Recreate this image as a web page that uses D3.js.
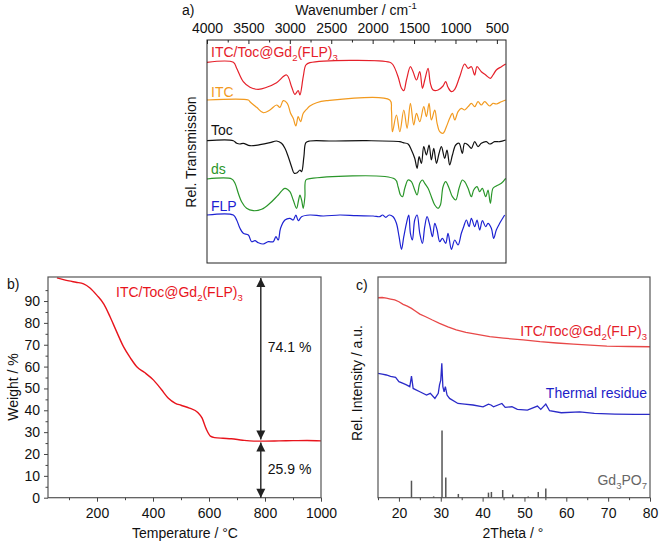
<!DOCTYPE html>
<html><head><meta charset="utf-8">
<script src="https://cdn.jsdelivr.net/npm/d3@7"></script>
<style>
html,body{margin:0;padding:0;background:#fff;}
text{font-family:"Liberation Sans",Arial,sans-serif;}
</style></head>
<body><svg id="c" width="661" height="544"></svg>
<script>
// ---------- DATA ----------
// panel a: IR spectra [wavenumber cm-1, rel. transmission (offset, a.u.)]
const irComposite = [[4000,200.7],[3682,200.7],[3642,194.7],[3562,181.3],[3481,175.7],[3381,173.7],[3280,175.7],[3160,180.3],[3039,188],[2979,176.3],[2939,168.7],[2899,172.3],[2878,168],[2838,186.3],[2806,198],[2758,200.3],[1793,200.7],[1753,198],[1693,186.3],[1652,174.7],[1624,172.3],[1592,183],[1544,196.3],[1512,191.3],[1471,183],[1431,191.3],[1399,174.7],[1371,183],[1331,194.7],[1303,179.7],[1270,173],[1210,173],[1150,177],[1118,181.3],[1090,175.7],[1049,171.3],[1009,173.7],[949,186.3],[889,199],[848,194.7],[808,196.3],[768,188],[740,196.3],[688,191.3],[635,188],[579,184.7],[547,188],[507,193],[446,196.3],[394,199]];
const irITC = [[4000,163],[3501,163],[3481,161.3],[3401,155.7],[3321,150.3],[3240,153],[3160,158],[3120,155.7],[3079,162.3],[3031,159.7],[2991,149.7],[2959,144.7],[2927,137],[2899,146.3],[2870,141.3],[2838,149.7],[2798,153.7],[2758,157],[2677,160.3],[2557,162.3],[1793,163],[1773,153],[1761,131.3],[1713,148],[1672,131.3],[1624,153],[1584,134.7],[1544,159.7],[1504,138],[1471,149.7],[1431,141.3],[1383,156.3],[1351,146.3],[1319,159.7],[1291,143],[1250,153],[1222,139.7],[1190,131.3],[1150,129.7],[1110,136.3],[1070,144.7],[1037,149.7],[1009,143],[969,151.3],[929,154.7],[889,153],[848,156.3],[808,159.7],[768,156.3],[728,161.3],[688,158],[647,161.3],[587,157],[547,159.7],[507,159],[446,161.3],[394,163]];
const irToc = [[4000,122.3],[3682,122.3],[3642,119.7],[3602,119],[3562,119.7],[3481,117.3],[3361,118.3],[3240,120.3],[3160,122],[3100,119.7],[3059,114.7],[3019,106.3],[2979,96.3],[2947,89.7],[2911,90.3],[2878,93],[2858,91.3],[2830,106.3],[2806,120.3],[2758,122],[2476,122],[2074,122.3],[1672,121.3],[1632,120.3],[1572,119],[1532,113],[1492,104.7],[1463,94.7],[1439,106.3],[1411,99.7],[1383,116.3],[1351,108],[1319,118],[1291,103],[1262,114.7],[1230,99.7],[1198,109.7],[1170,116.3],[1130,104.7],[1102,113],[1070,98],[1037,108],[997,118],[957,119.7],[917,109.7],[889,119.7],[848,118],[808,114.7],[768,121.3],[728,116.3],[688,119.7],[627,121.3],[587,119],[527,121.3],[466,121.3],[394,123]];
const irDs = [[4000,84],[3702,84],[3662,79.7],[3622,69.7],[3582,61.3],[3522,54.7],[3441,52.3],[3341,53.7],[3240,59.7],[3140,68],[3059,74.7],[2999,71.3],[2959,63],[2919,54.7],[2894,63],[2878,68],[2858,63],[2838,54.7],[2818,66.3],[2806,83],[2758,84.3],[1733,84],[1693,76.3],[1664,68],[1640,66.3],[1612,74.7],[1572,83],[1532,81.3],[1492,73],[1463,68],[1431,79.7],[1399,83],[1371,79.7],[1331,74.7],[1291,66.3],[1250,58],[1210,54.7],[1182,58],[1150,76.3],[1118,81.3],[1077,74.7],[1037,66.3],[997,63],[957,74.7],[917,83],[889,81.3],[848,74.7],[808,66.3],[780,73],[740,76.3],[708,71.3],[676,74.7],[635,66.3],[607,73],[579,59.7],[547,74.7],[507,77],[446,79.7],[394,84.7]];
const irFLP = [[4000,48],[3682,48],[3642,43],[3602,34.7],[3562,29.7],[3501,28],[3461,21.3],[3421,22.3],[3381,20.3],[3321,19],[3260,21.3],[3200,21.3],[3168,26.3],[3140,23],[3112,34.7],[3059,43],[2999,44.7],[2959,43],[2927,48],[2898,42.3],[2858,46.3],[2758,48],[2597,47],[2396,48],[2195,47.3],[1994,47],[1914,46.3],[1881,48],[1841,45.7],[1801,48],[1753,46.3],[1713,39.7],[1681,26.3],[1652,13.7],[1624,26.3],[1592,39.7],[1564,48],[1544,29.7],[1520,23],[1492,43],[1463,48],[1431,29.7],[1399,19.7],[1371,36.3],[1343,46.3],[1311,38],[1278,26.3],[1250,39.7],[1222,33],[1190,21.3],[1158,24.7],[1118,19.7],[1090,29.7],[1049,13.7],[1009,23],[969,18],[929,29.7],[901,36.3],[868,43],[836,36.3],[808,44.7],[768,36.3],[740,43],[708,33],[675,42.3],[635,36.3],[607,39.7],[567,34.7],[539,24.7],[507,33],[466,39.7],[406,48]];
const irNames = ["ITC/Toc@Gd2(FLP)3","ITC","Toc","ds","FLP"];
const irTicks = [4000,3500,3000,2500,2000,1500,1000,500];
const irMinorTicks = [3750,3250,2750,2250,1750,1250,750];

// panel b: TGA [temperature °C, weight %]
const tgaTemp   = [57,80,100,125,152,175,200,225,247,270,295,320,343,370,402,430,455,480,500,530,560,575,590,605,620,650,680,720,760,800,850,900,950,1000];
const tgaWeight = [100.6,99.8,99.2,98.6,97.9,96,92.6,88.5,82.7,76,69,63.8,59.8,57.3,53.8,49.5,45.5,43.2,42.3,41,39,36.5,31.5,28.2,27.5,27.2,27,26.3,25.9,25.9,26,26.1,26.2,26];
const tgaResidue = 25.9, tgaLoss = 74.1, tgaMarkTemp = 785;
const tgaXTicks = [200,400,600,800,1000];
const tgaYTicks = [0,10,20,30,40,50,60,70,80,90];

// panel c: XRD [2theta °, rel. intensity a.u.]
const xrdComposite = [[15,90.6],[16,90.7],[17,90.4],[18,90],[19,89.6],[20,88.8],[21,87.6],[22,86.8],[23,85.8],[24,84.5],[25,83.2],[26.4,82],[28,80.5],[29.7,79],[31.7,77.4],[33.7,76],[36,74.9],[38.7,74],[41.7,73],[45,72.3],[49.7,71.5],[53.7,70.7],[57.7,70.1],[61.7,69.6],[65.7,69.1],[69.7,68.7],[75,68.5],[80,68.4]];
const xrdResidue = [[15,56.3],[16,56],[17,55.6],[18,55],[19.2,54.5],[20,52.6],[21,51.8],[21.8,51.1],[22.6,50.3],[23,55.1],[23.4,49.5],[25,48],[26.6,46.5],[27.5,47.3],[28.6,45],[29.4,47.3],[29.7,51.1],[30,53.3],[30.25,60.9],[30.5,50.3],[30.8,48],[31.1,50.3],[31.5,46.5],[32.1,45],[34.1,42.7],[35.7,42.4],[37.7,42],[40.1,41.2],[41.4,42.4],[42,42],[42.6,41.2],[44.6,42.7],[45.4,40.9],[47,41.2],[48.3,40],[50.7,39.7],[53.1,41.5],[53.9,40],[55.1,42.4],[56,39.4],[58.8,38.5],[63.2,38.9],[66.7,38.2],[71.6,37.9],[76.4,37.8],[80,37.8]];
const refPos    = [23.0,28.3,30.3,31.2,34.2,41.4,42.1,44.8,47.2,50.9,53.3,55.1];
const refHeight = [7.7,0.6,30.4,9.1,1.7,2.3,2.6,3.5,1.4,0.5,2.6,4.2];
const xrdTicks = [20,30,40,50,60,70,80];
const xrdMinor = [15,25,35,45,55,65,75];

// ---------- DRAW ----------
const svg = d3.select("#c");
svg.append("rect").attr("width",661).attr("height",544).attr("fill","#fff");
const FONT = 14;
const fmt = d3.format("d");

function rich(sel, parts, size){
  parts.forEach(p=>{
    const t = sel.append("tspan").text(p.t);
    if(p.sub){ t.attr("font-size", size*0.68).attr("dy", 4); }
    else if(p.sup){ t.attr("font-size", size*0.68).attr("dy", -6); }
    else if(p.back){ t.attr("dy", p.back); }
  });
  return sel;
}
const compositeParts = [{t:"ITC/Toc@Gd"},{t:"2",sub:true},{t:"(FLP)",back:-4},{t:"3",sub:true}];

// ===== Panel a =====
const xA = d3.scaleLinear().domain([4000,390]).range([207,506]);
const yA = d3.scaleLinear().domain([0,223]).range([263,40]);
const gA = svg.append("g");
const irSeries = [
  {name:irNames[0], data:irComposite, color:"#e5202a", labelY:57, parts:compositeParts},
  {name:irNames[1], data:irITC, color:"#f29a1f", labelY:97},
  {name:irNames[2], data:irToc, color:"#111", labelY:135},
  {name:irNames[3], data:irDs, color:"#2a962a", labelY:174},
  {name:irNames[4], data:irFLP, color:"#1d22d2", labelY:211}
];
const lineA = d3.line().x(d=>xA(d[0])).y(d=>yA(d[1])).curve(d3.curveCatmullRom.alpha(0.5));
irSeries.forEach(s=>{
  gA.append("path").attr("d", lineA(s.data)).attr("fill","none").attr("stroke",s.color).attr("stroke-width",1.2);
  const t = gA.append("text").attr("x",211).attr("y",s.labelY).attr("fill",s.color).attr("font-size",FONT);
  if(s.parts) rich(t, s.parts, FONT); else t.text(s.name);
});
gA.append("rect").attr("x",207).attr("y",40).attr("width",299).attr("height",223).attr("fill","none").attr("stroke","#222").attr("stroke-width",1);
const axA = gA.append("g").attr("transform","translate(0,40)")
  .call(d3.axisTop(xA).tickValues(irTicks).tickFormat(fmt).tickSizeInner(-4).tickSizeOuter(0).tickPadding(7));
axA.select(".domain").remove();
axA.selectAll("text").attr("font-size",FONT).attr("fill","#111").attr("font-family","Liberation Sans, Arial, sans-serif");
axA.selectAll("line").attr("stroke","#222");
gA.append("g").attr("transform","translate(0,40)")
  .call(d3.axisTop(xA).tickValues(irMinorTicks).tickSizeInner(-2.5).tickSizeOuter(0).tickFormat(""))
  .call(g=>{g.select(".domain").remove(); g.selectAll("line").attr("stroke","#222");});
rich(gA.append("text").attr("x",356).attr("y",15).attr("text-anchor","middle").attr("font-size",FONT).attr("fill","#111"),
  [{t:"Wavenumber / cm"},{t:"-1",sup:true}], FONT);
gA.append("text").attr("x",182).attr("y",15).attr("font-size",FONT).attr("fill","#111").text("a)");
gA.append("text").attr("transform","translate(196,152) rotate(-90)").attr("text-anchor","middle").attr("font-size",FONT).attr("fill","#111").text("Rel. Transmission");

// ===== Panel b =====
const xB = d3.scaleLinear().domain([25,1000]).range([48,321]);
const yB = d3.scaleLinear().domain([0,101]).range([497.7,277]);
const gB = svg.append("g");
const tga = tgaTemp.map((t,i)=>[t,tgaWeight[i]]);
gB.append("path").attr("d", d3.line().x(d=>xB(d[0])).y(d=>yB(d[1])).curve(d3.curveMonotoneX)(tga))
  .attr("fill","none").attr("stroke","#e8141c").attr("stroke-width",1.4);
gB.append("rect").attr("x",48).attr("y",277).attr("width",273).attr("height",220.7).attr("fill","none").attr("stroke","#555").attr("stroke-width",1.2);
const axBx = gB.append("g").attr("transform","translate(0,497.7)")
  .call(d3.axisBottom(xB).tickValues(tgaXTicks).tickFormat(fmt).tickSizeInner(4).tickSizeOuter(0).tickPadding(6));
const axBxm = gB.append("g").attr("transform","translate(0,497.7)")
  .call(d3.axisBottom(xB).tickValues([100,300,500,700,900]).tickSizeInner(2.5).tickSizeOuter(0).tickFormat(""));
const axBy = gB.append("g").attr("transform","translate(48,0)")
  .call(d3.axisLeft(yB).tickValues(tgaYTicks).tickFormat(fmt).tickSizeInner(4).tickSizeOuter(0).tickPadding(4));
const axBym = gB.append("g").attr("transform","translate(48,0)")
  .call(d3.axisLeft(yB).tickValues([5,15,25,35,45,55,65,75,85,95]).tickSizeInner(2.5).tickSizeOuter(0).tickFormat(""));
[axBx,axBxm,axBy,axBym].forEach(a=>{a.select(".domain").remove(); a.selectAll("line").attr("stroke","#444");
  a.selectAll("text").attr("font-size",FONT).attr("fill","#111").attr("font-family","Liberation Sans, Arial, sans-serif");});
// double arrows
function vArrow(g, x, y1, y2){
  g.append("line").attr("x1",x).attr("x2",x).attr("y1",y1).attr("y2",y2).attr("stroke","#222").attr("stroke-width",1.4);
  const hw=4.5, hl=9;
  const head=(yt,dir)=>g.append("path").attr("d",`M${x},${yt} L${x-hw},${yt+dir*hl} L${x+hw},${yt+dir*hl} Z`).attr("fill","#222");
  head(Math.min(y1,y2),1); head(Math.max(y1,y2),-1);
}
const ax = xB(tgaMarkTemp);
vArrow(gB, ax, yB(101)+1, yB(tgaResidue)-1.5);
vArrow(gB, ax, yB(tgaResidue)+1.5, yB(0));
gB.append("text").attr("x",ax+7).attr("y",yB((100+tgaResidue)/2)-8).attr("font-size",FONT).attr("fill","#111").text(tgaLoss.toFixed(1)+" %");
gB.append("text").attr("x",ax+7).attr("y",yB(tgaResidue/2)+5).attr("font-size",FONT).attr("fill","#111").text(tgaResidue.toFixed(1)+" %");
rich(gB.append("text").attr("x",116).attr("y",297).attr("font-size",FONT).attr("fill","#e8141c"), compositeParts, FONT);
gB.append("text").attr("x",7).attr("y",289).attr("font-size",FONT).attr("fill","#111").text("b)");
gB.append("text").attr("x",185).attr("y",538).attr("text-anchor","middle").attr("font-size",FONT).attr("fill","#111").text("Temperature / °C");
gB.append("text").attr("transform","translate(18,387) rotate(-90)").attr("text-anchor","middle").attr("font-size",FONT).attr("fill","#111").text("Weight / %");

// ===== Panel c =====
const xC = d3.scaleLinear().domain([15,80]).range([378,650]);
const yC = d3.scaleLinear().domain([0,100]).range([497.7,277]);
const gC = svg.append("g");
const lineC = d3.line().x(d=>xC(d[0])).y(d=>yC(d[1])).curve(d3.curveLinear);
gC.append("path").attr("d",lineC(xrdComposite)).attr("fill","none").attr("stroke","#e84848").attr("stroke-width",1.3);
gC.append("path").attr("d",lineC(xrdResidue)).attr("fill","none").attr("stroke","#2b2bc8").attr("stroke-width",1.3);
gC.selectAll("line.stick").data(refPos).join("line").attr("class","stick")
  .attr("x1",d=>xC(d)).attr("x2",d=>xC(d)).attr("y1",yC(0)).attr("y2",(d,i)=>yC(refHeight[i]))
  .attr("stroke","#555").attr("stroke-width",1.5);
gC.append("rect").attr("x",378).attr("y",277).attr("width",272).attr("height",220.7).attr("fill","none").attr("stroke","#555").attr("stroke-width",1.2);
const axCx = gC.append("g").attr("transform","translate(0,497.7)")
  .call(d3.axisBottom(xC).tickValues(xrdTicks).tickFormat(fmt).tickSizeInner(4).tickSizeOuter(0).tickPadding(6));
const axCm = gC.append("g").attr("transform","translate(0,497.7)")
  .call(d3.axisBottom(xC).tickValues(xrdMinor).tickSizeInner(2.5).tickSizeOuter(0).tickFormat(""));
[axCx,axCm].forEach(a=>{a.select(".domain").remove(); a.selectAll("line").attr("stroke","#444");
  a.selectAll("text").attr("font-size",FONT).attr("fill","#111").attr("font-family","Liberation Sans, Arial, sans-serif");});
rich(gC.append("text").attr("x",647).attr("y",336).attr("text-anchor","end").attr("font-size",FONT).attr("fill","#e5202a"), compositeParts, FONT);
gC.append("text").attr("x",647).attr("y",398).attr("text-anchor","end").attr("font-size",FONT).attr("fill","#1d22c8").text("Thermal residue");
rich(gC.append("text").attr("x",647).attr("y",485).attr("text-anchor","end").attr("font-size",FONT).attr("fill","#666"),
  [{t:"Gd"},{t:"3",sub:true},{t:"PO",back:-4},{t:"7",sub:true}], FONT);
gC.append("text").attr("x",356).attr("y",290).attr("font-size",FONT).attr("fill","#111").text("c)");
gC.append("text").attr("x",513).attr("y",538).attr("text-anchor","middle").attr("font-size",FONT).attr("fill","#111").text("2Theta / °");
gC.append("text").attr("transform","translate(362,383) rotate(-90)").attr("text-anchor","middle").attr("font-size",FONT).attr("fill","#111").text("Rel. Intensity / a.u.");
</script></body></html>
